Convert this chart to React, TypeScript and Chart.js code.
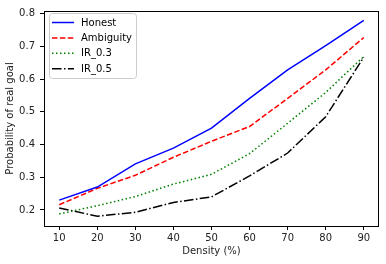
import React, { useEffect, useRef } from "react";
import { Chart, registerables } from "chart.js";

Chart.register(...registerables);

const densities = [10, 20, 30, 40, 50, 60, 70, 80, 90];
const honest = [0.23, 0.27, 0.341, 0.389, 0.45, 0.541, 0.628, 0.702, 0.779];
const ambiguity = [0.216, 0.266, 0.306, 0.361, 0.41, 0.455, 0.541, 0.628, 0.727];
const ir03 = [0.188, 0.213, 0.241, 0.279, 0.309, 0.372, 0.465, 0.559, 0.669];
const ir05 = [0.206, 0.181, 0.193, 0.223, 0.24, 0.304, 0.374, 0.485, 0.667];
const yTicks = [0.2, 0.3, 0.4, 0.5, 0.6, 0.7, 0.8];
const xTicks = [10, 20, 30, 40, 50, 60, 70, 80, 90];

const FONT = "'DejaVu Sans', sans-serif";

const seriesDefs = [
  { label: "Honest", data: honest, color: "#0000ff", dash: [] as number[] },
  { label: "Ambiguity", data: ambiguity, color: "#ff0000", dash: [5.5, 2.4] },
  { label: "IR_0.3", data: ir03, color: "#008000", dash: [1.5, 2.5] },
  { label: "IR_0.5", data: ir05, color: "#000000", dash: [9.6, 2.4, 1.5, 2.4] },
];

const framePlugin = {
  id: "frameLegend",
  afterDraw(chart: any) {
    const ctx = chart.ctx;
    const a = chart.chartArea;
    ctx.save();
    ctx.strokeStyle = "#000";
    ctx.lineWidth = 1;
    ctx.setLineDash([]);
    ctx.strokeRect(Math.round(a.left) + 0.5, Math.round(a.top) + 0.5, Math.round(a.right - a.left) - 1, Math.round(a.bottom - a.top));
    // legend
    const bx = 49.5, by = 13.5, bw = 87, bh = 65, r = 3;
    ctx.beginPath();
    ctx.moveTo(bx + r, by);
    ctx.lineTo(bx + bw - r, by);
    ctx.quadraticCurveTo(bx + bw, by, bx + bw, by + r);
    ctx.lineTo(bx + bw, by + bh - r);
    ctx.quadraticCurveTo(bx + bw, by + bh, bx + bw - r, by + bh);
    ctx.lineTo(bx + r, by + bh);
    ctx.quadraticCurveTo(bx, by + bh, bx, by + bh - r);
    ctx.lineTo(bx, by + r);
    ctx.quadraticCurveTo(bx, by, bx + r, by);
    ctx.closePath();
    ctx.fillStyle = "rgba(255,255,255,0.8)";
    ctx.fill();
    ctx.strokeStyle = "#cccccc";
    ctx.stroke();
    ctx.font = `10px ${FONT}`;
    ctx.textBaseline = "middle";
    ctx.textAlign = "left";
    seriesDefs.forEach((s, i) => {
      const y = 22.5 + i * 15.4;
      ctx.beginPath();
      ctx.setLineDash(s.dash);
      ctx.strokeStyle = s.color;
      ctx.lineWidth = 1.5;
      ctx.moveTo(52, y);
      ctx.lineTo(74, y);
      ctx.stroke();
      ctx.setLineDash([]);
      ctx.fillStyle = "#000";
      ctx.fillText(s.label, 81, y + 0.5);
    });
    ctx.restore();
  },
};

export default function App() {
  const ref = useRef<HTMLCanvasElement | null>(null);
  useEffect(() => {
    document.body.style.margin = "0";
    const chart = new Chart(ref.current!, {
      type: "line",
      data: {
        datasets: seriesDefs.map((s) => ({
          label: s.label,
          data: densities.map((d, i) => ({ x: d, y: s.data[i] })),
          borderColor: s.color,
          backgroundColor: s.color,
          borderWidth: 1.5,
          borderDash: s.dash,
          pointRadius: 0,
          tension: 0,
          fill: false,
        })),
      },
      options: {
        animation: false,
        responsive: false,
        devicePixelRatio: 1,
        layout: { padding: { top: 9, right: 7, left: 0, bottom: 0 } },
        plugins: { legend: { display: false }, tooltip: { enabled: false } },
        scales: {
          x: {
            type: "linear",
            min: 6,
            max: 94,
            afterBuildTicks: (s: any) => {
              s.ticks = xTicks.map((v) => ({ value: v }));
            },
            afterFit: (s: any) => {
              s.height = 38;
            },
            grid: { drawOnChartArea: false, drawTicks: true, tickLength: 4, color: "#000" },
            border: { display: false },
            ticks: { color: "#222", font: { family: FONT, size: 10 }, padding: 2, maxRotation: 0, autoSkip: false },
            title: { display: true, text: "Density (%)", color: "#222", font: { family: FONT, size: 10 }, padding: { top: 2, bottom: 7 } },
          },
          y: {
            type: "linear",
            min: 0.151,
            max: 0.808,
            afterBuildTicks: (s: any) => {
              s.ticks = yTicks.map((v) => ({ value: v }));
            },
            afterFit: (s: any) => {
              s.width = 44;
            },
            grid: { drawOnChartArea: false, drawTicks: true, tickLength: 4, color: "#000" },
            border: { display: false },
            ticks: { color: "#222", font: { family: FONT, size: 10 }, padding: 5, autoSkip: false, callback: (v: any) => Number(v).toFixed(1) },
            title: { display: true, text: "Probability of real goal", color: "#222", font: { family: FONT, size: 10 }, padding: { top: 4, bottom: 2 } },
          },
        },
      },
      plugins: [framePlugin],
    } as any);
    return () => chart.destroy();
  }, []);
  return (
    <div style={{ position: "absolute", left: 0, top: 0, width: 386, height: 264, background: "#fff" }}>
      <canvas ref={ref} width={386} height={264} style={{ width: 386, height: 264 }} />
    </div>
  );
}
